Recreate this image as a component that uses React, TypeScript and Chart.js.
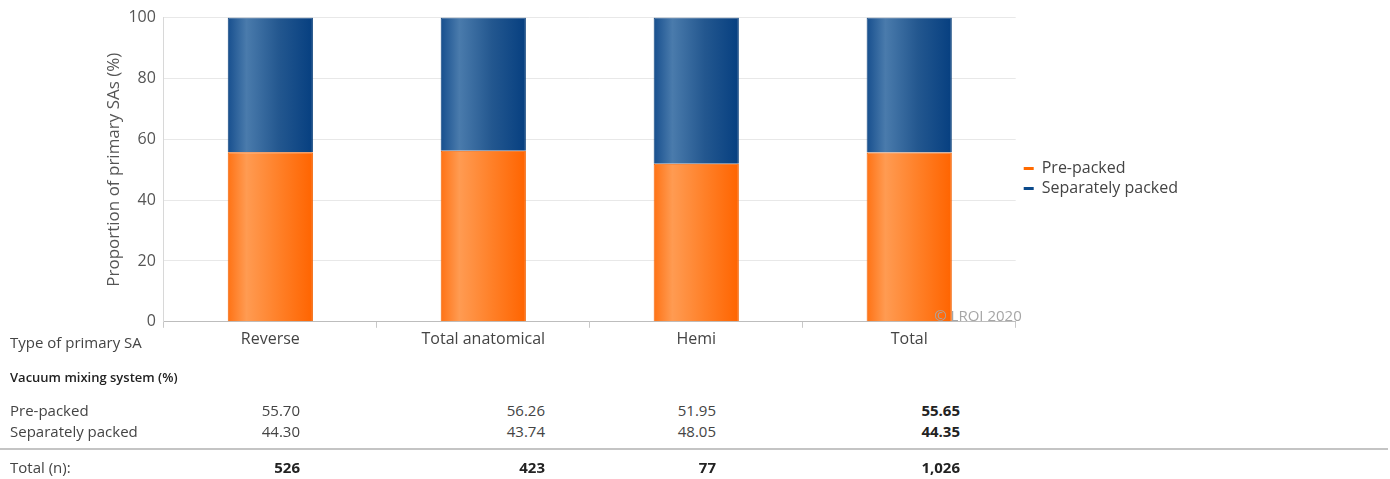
import React, { useEffect, useRef } from "react";
import { Chart, registerables } from "chart.js";

Chart.register(...registerables);

const categories = ["Reverse", "Total anatomical", "Hemi", "Total"];
const prePacked = [55.7, 56.26, 51.95, 55.65];
const separatelyPacked = [44.3, 43.74, 48.05, 44.35];
const prePackedText = ["55.70", "56.26", "51.95", "55.65"];
const separatelyText = ["44.30", "43.74", "48.05", "44.35"];
const totalsText = ["526", "423", "77", "1,026"];
const seriesNames = ["Pre-packed", "Separately packed"];
const yAxisTitle = "Proportion of primary SAs (%)";
const rowTitle = "Type of primary SA";
const sectionTitle = "Vacuum mixing system (%)";
const totalLabel = "Total (n):";
const credit = "© LROI 2020";

const FONT = "'Open Sans', 'Noto Sans', sans-serif";
const ORANGE = "#FF6A00";
const BLUE = "#0B4A8B";
const orangeStops: [number, string][] = [
  [0, "#FF7214"],
  [0.22, "#FF9B52"],
  [0.6, "#FF8028"],
  [1, "#FF6400"],
];
const blueStops: [number, string][] = [
  [0, "#174F8E"],
  [0.22, "#4A7BAC"],
  [0.6, "#23578F"],
  [1, "#063F80"],
];
const BAR_FRACTION = 0.4;

function barGradient(ctx: any, stops: [number, string][]) {
  const chart = ctx.chart;
  const xs = chart.scales && chart.scales.x;
  if (!xs || !chart.chartArea || ctx.dataIndex === undefined) return stops[stops.length - 1][1];
  const center = xs.getPixelForValue(ctx.dataIndex);
  const w = (xs.width / categories.length) * BAR_FRACTION;
  const g = chart.ctx.createLinearGradient(center - w / 2, 0, center + w / 2, 0);
  stops.forEach(([o, c]) => g.addColorStop(o, c));
  return g;
}

const creditPlugin = {
  id: "credit",
  afterLayout(chart: any) {
    if (chart.legend) {
      chart.legend.left += 4;
      chart.legend.right += 4;
      chart.legend.top -= 3;
      chart.legend.bottom -= 3;
    }
  },
  afterDraw(chart: any) {
    const { ctx, chartArea } = chart;
    ctx.save();
    ctx.font = `15px ${FONT}`;
    ctx.fillStyle = "#a6a6a6";
    ctx.textAlign = "right";
    ctx.textBaseline = "bottom";
    ctx.fillText(credit, chartArea.right + 6, chartArea.bottom + 2);
    ctx.restore();
  },
};

const colRight = [300, 545, 716, 960];

function Cell(props: { left?: number; right?: number; cy: number; text: string; bold?: boolean; size?: number; weight?: number }) {
  const size = props.size || 15;
  const lh = 20;
  const style: any = {
    position: "absolute",
    top: props.cy - lh / 2,
    lineHeight: lh + "px",
    fontSize: size,
    fontWeight: props.weight || (props.bold ? 700 : 400),
    color: props.bold || props.weight ? "#222" : "#444",
    whiteSpace: "nowrap",
  };
  if (props.left !== undefined) style.left = props.left;
  if (props.right !== undefined) {
    style.right = 1390 - props.right;
    style.textAlign = "right";
  }
  return <div style={style}>{props.text}</div>;
}

export default function App() {
  const ref = useRef<HTMLCanvasElement>(null);

  useEffect(() => {
    if (!ref.current) return;
    Chart.defaults.font.family = FONT;
    const chart = new Chart(ref.current, {
      type: "bar",
      data: {
        labels: categories,
        datasets: [
          {
            label: seriesNames[0],
            data: prePacked,
            backgroundColor: (c: any) => barGradient(c, orangeStops),
            borderColor: "#F06000",
            borderWidth: 1,
            categoryPercentage: 1,
            barPercentage: BAR_FRACTION,
          },
          {
            label: seriesNames[1],
            data: separatelyPacked,
            backgroundColor: (c: any) => barGradient(c, blueStops),
            borderColor: "#0A3F7A",
            borderWidth: 1,
            categoryPercentage: 1,
            barPercentage: BAR_FRACTION,
          },
        ],
      },
      options: {
        animation: false,
        responsive: false,
        maintainAspectRatio: false,
        layout: { padding: { left: 100, right: 206, top: 12, bottom: 1 } },
        plugins: {
          tooltip: { enabled: false },
          legend: {
            position: "right",
            labels: {
              usePointStyle: true,
              pointStyleWidth: 10,
              boxHeight: 10,
              padding: 4,
              color: "#444",
              font: { size: 16, family: FONT },
              generateLabels: () =>
                seriesNames.map((n, i) => ({
                  text: n,
                  fillStyle: i === 0 ? ORANGE : BLUE,
                  strokeStyle: i === 0 ? ORANGE : BLUE,
                  lineWidth: 3,
                  pointStyle: "line",
                  hidden: false,
                  datasetIndex: i,
                  fontColor: "#444",
                })),
            },
          },
        },
        scales: {
          x: {
            stacked: true,
            grid: { offset: true, drawOnChartArea: false, drawTicks: true, tickLength: 6, color: "#c8c8c8" },
            border: { display: true, color: "#bdbdbd", width: 1 },
            ticks: { color: "#444", font: { size: 16, family: FONT }, padding: 2, maxRotation: 0 },
          },
          y: {
            stacked: true,
            min: 0,
            max: 100,
            ticks: { stepSize: 20, color: "#555", font: { size: 16, family: FONT }, padding: 8 },
            grid: { color: "#e8e8e8", drawTicks: false },
            border: { display: true, color: "#d8d8d8" },
            title: {
              display: true,
              text: yAxisTitle,
              color: "#555",
              font: { size: 17, family: FONT },
              padding: { top: 4, bottom: -4 },
            },
          },
        },
      },
      plugins: [creditPlugin],
    } as any);
    return () => chart.destroy();
  }, []);

  return (
    <div style={{ position: "absolute", left: 0, top: 0, width: 1390, height: 479, background: "#fff", fontFamily: FONT }}>
      <canvas ref={ref} width={1390} height={352} style={{ position: "absolute", left: 0, top: 0 }} />
      <Cell left={10} cy={342} text={rowTitle} />
      <Cell left={10} cy={377} text={sectionTitle} size={13} weight={600} />
      <Cell left={10} cy={410} text={seriesNames[0]} />
      <Cell left={10} cy={431} text={seriesNames[1]} />
      {prePackedText.map((t, i) => (
        <Cell key={"p" + i} right={colRight[i]} cy={410} text={t} bold={i === 3} />
      ))}
      {separatelyText.map((t, i) => (
        <Cell key={"s" + i} right={colRight[i]} cy={431} text={t} bold={i === 3} />
      ))}
      <div style={{ position: "absolute", left: 0, width: 1388, top: 448, height: 2, background: "#c4c4c4" }} />
      <Cell left={10} cy={467} text={totalLabel} />
      {totalsText.map((t, i) => (
        <Cell key={"t" + i} right={colRight[i]} cy={467} text={t} bold />
      ))}
    </div>
  );
}
